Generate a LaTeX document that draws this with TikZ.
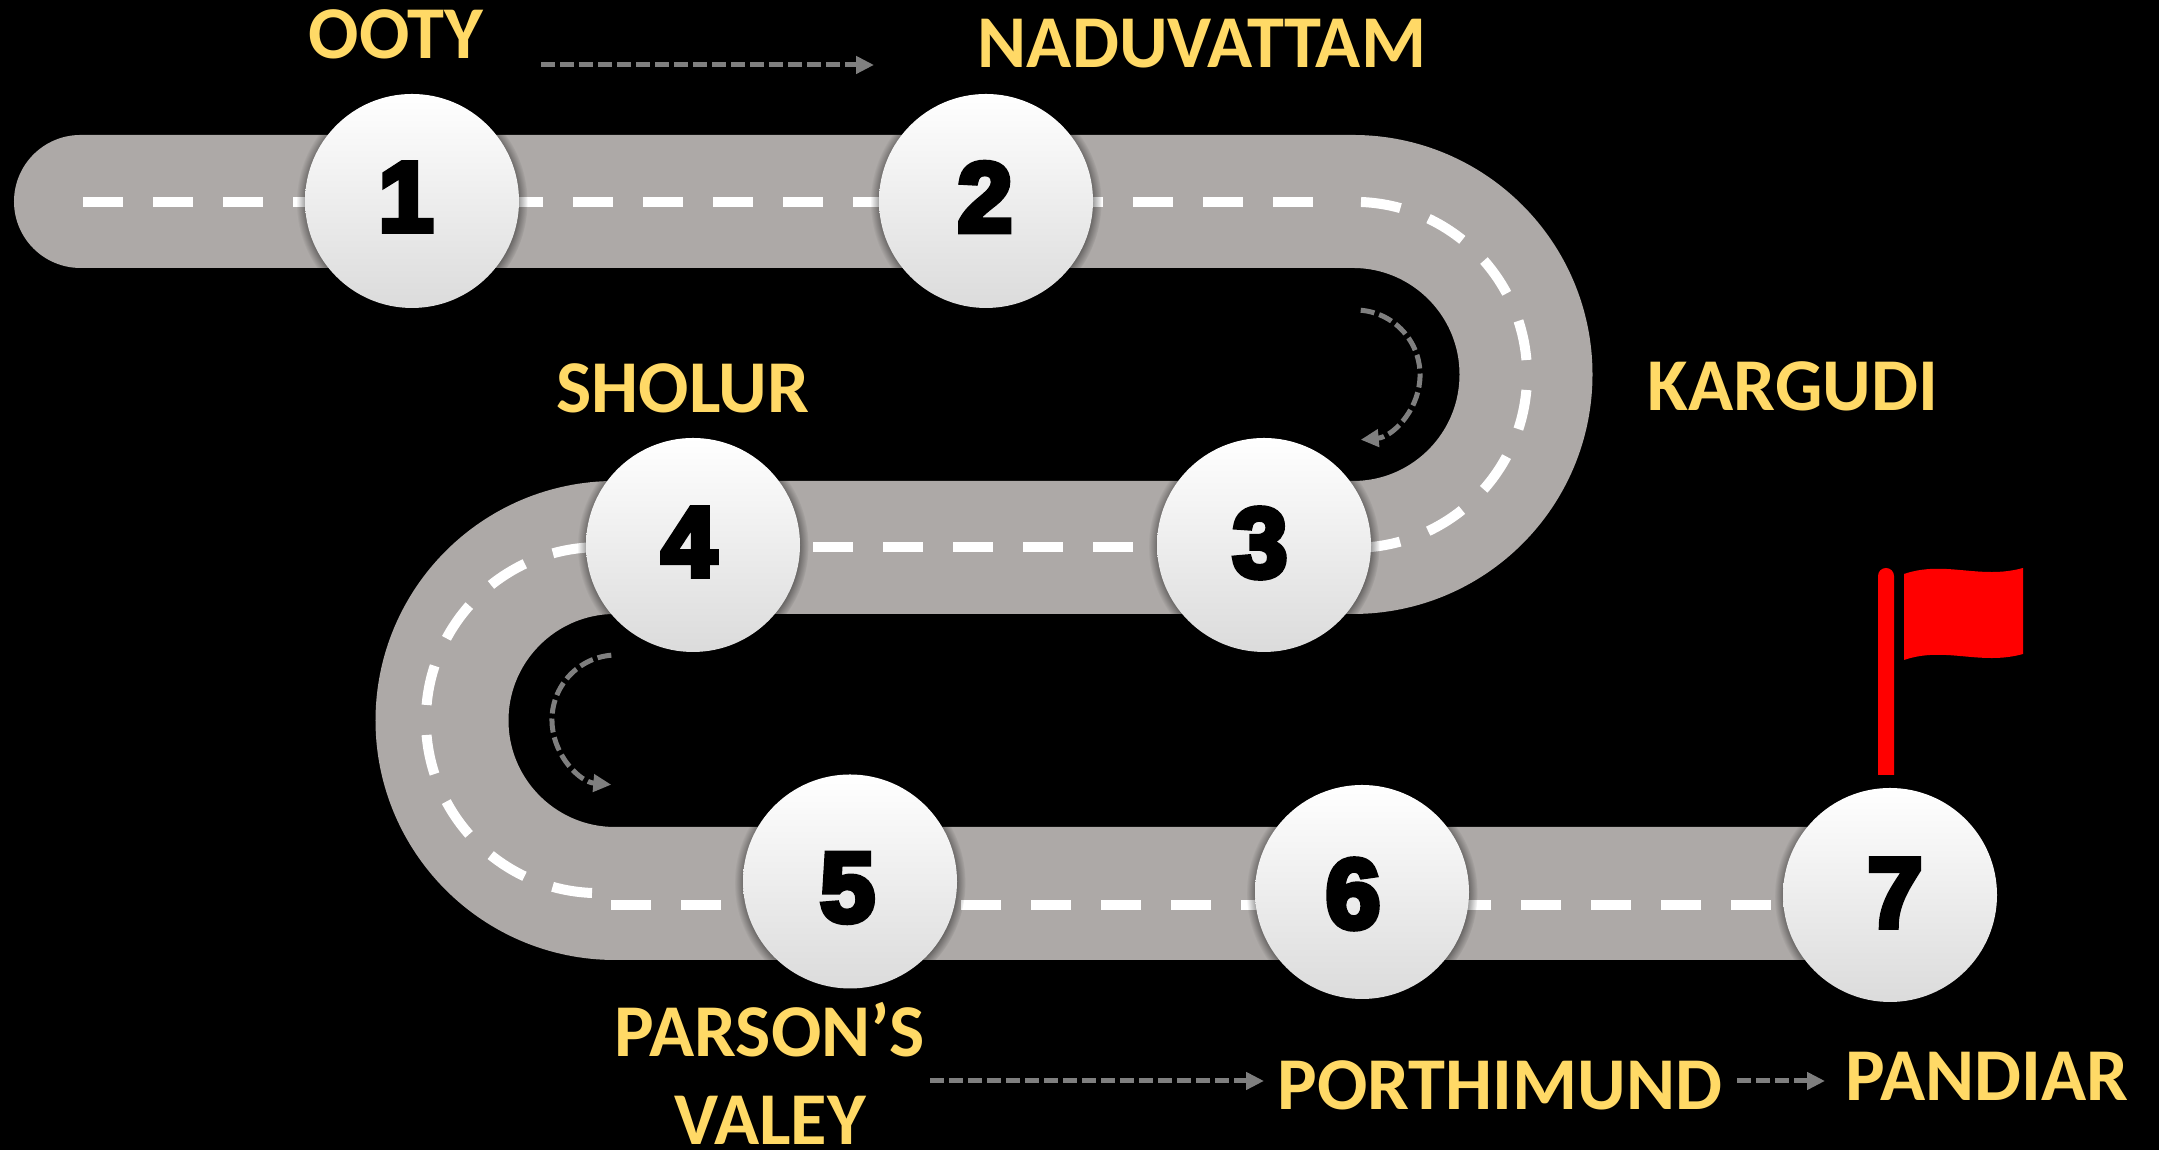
\documentclass[tikz,border=0pt]{standalone}
\usepackage{fontspec}
\setmainfont{Carlito}
\newfontfamily\digitfont{Liberation Sans Bold}[FakeBold=6]
\usetikzlibrary{%
    arrows.meta,%
    calc,%
    positioning,%
    shadows
}
\definecolor{roadgray}{RGB}{173,169,167}
\definecolor{labelyellow}{RGB}{255,217,102}
\definecolor{pathgray}{RGB}{127,127,127}
\tikzset{
    stopnode/.style={circle,minimum size=2.14cm,inner sep=0pt,top color=white,bottom color=black!14,
        circular drop shadow={shadow xshift=0pt,shadow yshift=-0.3pt,shadow scale=1.08,fill=black,opacity=0.7}},
    digitnode/.style={inner sep=0pt,text=black,font=\digitfont\fontsize{28}{28}\selectfont},
    townlabel/.style={anchor=base,inner sep=0pt,text=labelyellow,align=center,
        font=\fontsize{21.2}{25.3}\selectfont\bfseries},
    laneline/.style={white,line width=0.10cm,dash pattern=on 0.4cm off 0.3cm},
    tripline/.style={pathgray,line width=0.05cm,dash pattern=on 0.14cm off 0.05cm,
        -{Triangle[length=0.18cm,width=0.17cm]}}
}

\begin{document}
\begin{tikzpicture}
    \useasboundingbox (0,0) rectangle (21.59,11.5);
    \fill[black] (0,0) rectangle (21.59,11.5);
    % Radius of the bends
    \pgfmathsetmacro{\rb}{1.73};

    % Road as one thick line
    \draw[roadgray,line width=1.33cm,line cap=round]
        (0.805,9.485) -- (13.53,9.485) arc[start angle=90,end angle=-90,radius=\rb]
        -- (6.15,6.025) arc[start angle=90,end angle=270,radius=\rb] -- (18.7,2.565);

    % Lane markings
    \draw[laneline] (0.83,9.48) -- (13.13,9.48);
    \draw[laneline] (13.61,9.48) arc[start angle=87.7,end angle=-90,radius=\rb];
    \draw[laneline] (8.13,6.025) -- (11.33,6.025);
    \draw[laneline] (5.92,2.57) arc[start angle=267.7,end angle=90,radius=\rb];
    \draw[laneline] (6.11,2.45) -- (17.71,2.45);

    % Numbered stops, digits sit a little off centre
    \foreach \i/\x/\y/\dx/\dy in {1/4.12/9.49/4.06/9.53,2/9.86/9.49/9.85/9.53,3/12.64/6.05/12.60/6.07,%
        4/6.93/6.05/6.89/6.08,5/8.50/2.685/8.475/2.62,6/13.62/2.58/13.53/2.56,7/18.90/2.55/18.95/2.57}%
    {%
        \node[stopnode] (stop\i) at (\x,\y) {};
        \node[digitnode] (digit\i) at (\dx,\dy) {\i};
    }

    % Town names
    \node[townlabel] (ooty) at (3.96,10.91) {OOTY};
    \node[townlabel] (naduvattam) at (12.02,10.82) {NADUVATTAM};
    \node[townlabel] (sholur) at (6.83,7.37) {SHOLUR};
    \node[townlabel] (kargudi) at (17.93,7.39) {KARGUDI};
    \node[townlabel,anchor=base] (parsons) at (7.70,0.05) {PARSON’S\\VALEY};
    \node[townlabel] (porthimund) at (15.00,0.40) {PORTHIMUND};
    \node[townlabel] (pandiar) at (19.87,0.49) {PANDIAR};

    % Direction of travel
    \coordinate (arrowa) at (5.41,10.85);
    \coordinate (arrowb) at (8.74,10.85);
    \coordinate (arrowc) at (9.30,0.69);
    \coordinate (arrowd) at (12.64,0.69);
    \coordinate (arrowe) at (17.37,0.69);
    \coordinate (arrowf) at (18.25,0.69);
    \draw[tripline] (arrowa) -- (arrowb);
    \draw[tripline] (arrowc) -- (arrowd);
    \draw[tripline] (arrowe) -- (arrowf);
    \draw[tripline] (13.607,8.3975) arc[start angle=85,end angle=-85,radius=0.65];
    \draw[tripline] (6.113,4.948) arc[start angle=95,end angle=265,radius=0.65];

    % Flag at the last stop
    \fill[red] (18.78,3.75) -- (18.78,5.74) arc[start angle=180,end angle=0,radius=0.08] -- (18.94,3.75) -- cycle;
    \fill[red] (19.04,5.76) .. controls (19.45,5.90) and (19.80,5.70) .. (20.23,5.82)
        -- (20.23,4.96) .. controls (19.80,4.84) and (19.45,5.04) .. (19.04,4.90) -- cycle;
\end{tikzpicture}
\end{document}
